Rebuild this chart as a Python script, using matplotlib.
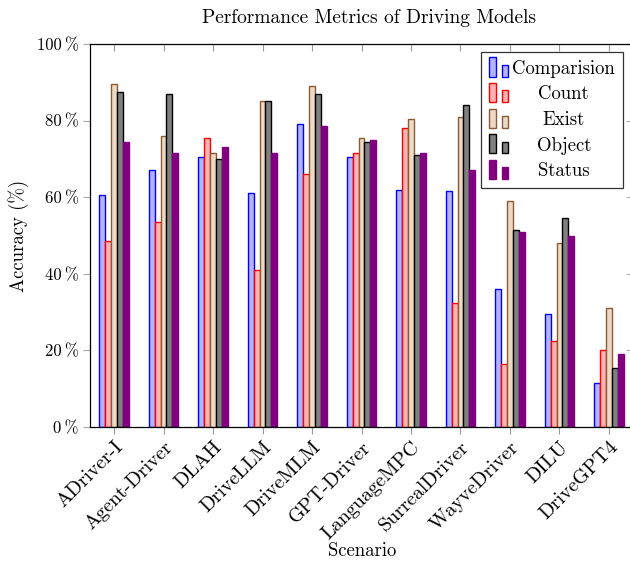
import matplotlib
matplotlib.use("Agg")
import matplotlib.pyplot as plt
import numpy as np
from matplotlib.patches import Rectangle
from matplotlib.legend_handler import HandlerBase

plt.rcParams['font.family'] = ['cmr10', 'DejaVu Serif']
plt.rcParams['axes.formatter.use_mathtext'] = True
plt.rcParams['mathtext.fontset'] = 'cm'

scenarios = ["ADriver-I", "Agent-Driver", "DLAH", "DriveLLM", "DriveMLM", "GPT-Driver",
             "LanguageMPC", "SurrealDriver", "WayveDriver", "DILU", "DriveGPT4"]
comparision = [60.5, 67, 70.5, 61, 79, 70.5, 62, 61.5, 36, 29.5, 11.5]
count = [48.5, 53.5, 75.5, 41, 66, 71.5, 78, 32.5, 16.5, 22.5, 20]
exist = [89.5, 76, 71.5, 85, 89, 75.5, 80.5, 81, 59, 48, 31]
obj = [87.5, 87, 70, 85, 87, 74.5, 71, 84, 51.5, 54.5, 15.5]
status = [74.5, 71.5, 73, 71.5, 78.5, 75, 71.5, 67, 51, 50, 19]
series_names = ["Comparision", "Count", "Exist", "Object", "Status"]
yticks = [0, 20, 40, 60, 80, 100]

series = [comparision, count, exist, obj, status]
styles = [
    dict(facecolor="#b3b3ff", edgecolor="#0000ff"),
    dict(facecolor="#ffb3b3", edgecolor="#ff0000"),
    dict(facecolor="#ecd9c6", edgecolor="#8c5a33"),
    dict(facecolor="#808080", edgecolor="#000000"),
    dict(facecolor="#800080", edgecolor="#800080"),
]

fig = plt.figure(figsize=(6.30, 5.63), dpi=100)
ax = fig.add_axes([90/630, 1-427/563, (633-90)/630, (427-44)/563])

x = np.arange(len(scenarios))
w = 0.12
for i, (vals, st) in enumerate(zip(series, styles)):
    ax.bar(x + (i-2)*w, vals, width=w, linewidth=1.0, **st)

ax.set_xlim(-0.485, len(scenarios)-1+0.485)
ax.set_ylim(0, 100)
ax.set_xticks(x)
ax.set_xticklabels(scenarios, rotation=45, ha='right', rotation_mode='anchor', fontsize=14.5)
ax.set_yticks(yticks)
ax.set_yticklabels([f"{v}\u2009%" for v in yticks], fontsize=12)
ax.tick_params(axis='x', which='both', direction='out', length=5, color='#999999', width=0.8,
               top=True, pad=3)
ax.tick_params(axis='y', which='both', direction='out', length=5, color='#aaaaaa', width=0.8,
               right=True, pad=3)
for t in ax.xaxis.get_major_ticks():
    t.tick2line.set_marker(3)
for t in ax.yaxis.get_major_ticks():
    t.tick2line.set_marker(0)
for sp in ax.spines.values():
    sp.set_linewidth(0.9)

ax.set_xlabel("Scenario", fontsize=13.5, va='center')
ax.xaxis.set_label_coords((362-90)/543, (427-551)/383)
ax.set_ylabel("Accuracy (%)", fontsize=13.5, labelpad=6)
fig.text(369/630, 1-18/563, "Performance Metrics of Driving Models", ha='center', va='center', fontsize=14)


class TwoBarHandler(HandlerBase):
    def __init__(self, fc, ec):
        super().__init__()
        self.fc, self.ec = fc, ec

    def create_artists(self, legend, orig_handle, xdescent, ydescent, width, height, fontsize, trans):
        r1 = Rectangle((-xdescent, -ydescent - 0.2*height), width*0.36, height*1.45,
                       facecolor=self.fc, edgecolor=self.ec, linewidth=1.0, transform=trans)
        r2 = Rectangle((-xdescent + width*0.68, -ydescent - 0.2*height), width*0.32, height*0.9,
                       facecolor=self.fc, edgecolor=self.ec, linewidth=1.0, transform=trans)
        return [r1, r2]


handles = [Rectangle((0, 0), 1, 1, **st) for st in styles]
hmap = {h: TwoBarHandler(st['facecolor'], st['edgecolor']) for h, st in zip(handles, styles)}
leg = ax.legend(handles, series_names, handler_map=hmap, loc='upper right',
                bbox_to_anchor=((623-90)/(633-90), 1-(52-44)/(427-44)),
                fontsize=13.5, frameon=True, fancybox=False, edgecolor='black',
                handlelength=1.0, handletextpad=0.25, labelspacing=0.41, borderpad=0.42,
                borderaxespad=0)
leg.get_frame().set_linewidth(0.9)

# center legend texts like pgfplots
fig.canvas.draw()
renderer = fig.canvas.get_renderer()
texts = leg.get_texts()
widths = [t.get_window_extent(renderer).width for t in texts]
W = max(widths)
for t, wd in zip(texts, widths):
    t.set_position(((W - wd) / 2, 0))

fig.savefig("out.png", dpi=100)
